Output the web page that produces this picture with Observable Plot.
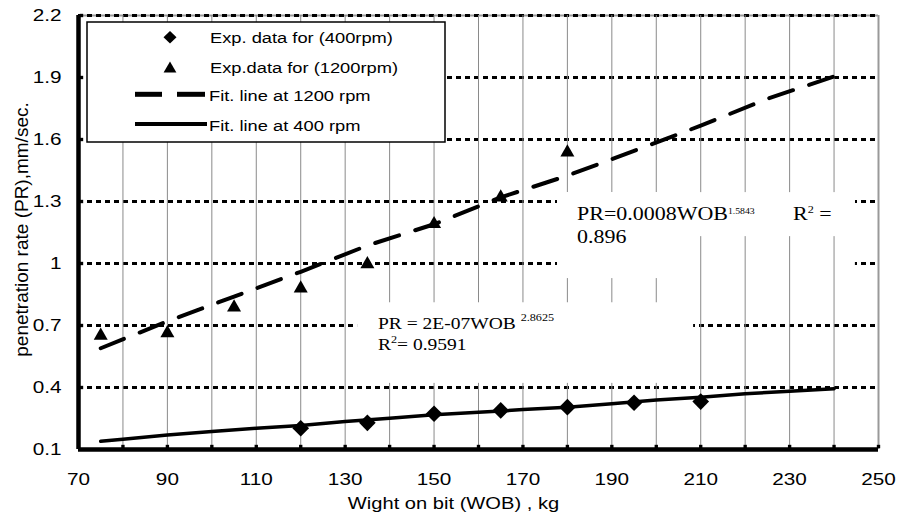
<!DOCTYPE html>
<html><head><meta charset="utf-8">
<script src="https://cdn.jsdelivr.net/npm/d3@7"></script>
<script src="https://cdn.jsdelivr.net/npm/@observablehq/plot@0.6"></script>
<style>
body{margin:0;background:#fff;}
#chart svg{display:block;}
</style>
</head><body><div id="chart"></div>
<script>
// ---- data ----
const wobExp400 = [120, 135, 150, 165, 180, 195, 210];
const prExp400  = [0.203, 0.229, 0.273, 0.289, 0.305, 0.326, 0.332];

const wobExp1200 = [75, 90, 105, 120, 135, 150, 165, 180];
const prExp1200  = [0.66, 0.672, 0.797, 0.889, 1.006, 1.20, 1.329, 1.547];

const wobFit400 = [75, 80, 90, 100, 110, 120, 130, 140, 150, 160, 170, 180, 190, 200, 210, 220, 230, 240];
const prFit400  = [0.14, 0.15, 0.17, 0.187, 0.203, 0.216, 0.235, 0.251, 0.268, 0.28, 0.293, 0.305, 0.321, 0.34, 0.353, 0.37, 0.382, 0.394];

const wobFit1200 = [75, 90, 105, 120, 135, 150, 165, 180, 195, 210, 225, 240];
const prFit1200  = [0.59, 0.72, 0.84, 0.96, 1.087, 1.19, 1.32, 1.425, 1.545, 1.667, 1.797, 1.905];

const xTicks = [70, 90, 110, 130, 150, 170, 190, 210, 230, 250];
const xTickLabels = ["70", "90", "110", "130", "150", "170", "190", "210", "230", "250"];
const xGrid = [80, 90, 100, 110, 120, 130, 140, 150, 160, 170, 180, 190, 200, 210, 220, 230, 240];
const xMinor = [80, 90, 100, 110, 120, 130, 140, 150, 160, 170, 180, 190, 200, 210, 220, 230, 240, 250];
const yTicks = [0.1, 0.4, 0.7, 1.0, 1.3, 1.6, 1.9, 2.2];
const yTickLabels = ["0.1", "0.4", "0.7", "1", "1.3", "1.6", "1.9", "2.2"];

const legendLabels = ["Exp. data for (400rpm)", "Exp.data for (1200rpm)", "Fit. line at 1200 rpm", "Fit. line at 400 rpm"];
const xTitle = "Wight on bit (WOB) , kg";
const yTitle = "penetration rate (PR),mm/sec.";

// ---- tables built from the arrays ----
const exp400 = wobExp400.map((x, i) => ({x, y: prExp400[i]}));
const exp1200 = wobExp1200.map((x, i) => ({x, y: prExp1200[i]}));
const fit400 = wobFit400.map((x, i) => ({x, y: prFit400[i]}));
const fit1200 = wobFit1200.map((x, i) => ({x, y: prFit1200[i]}));

const SANS = "'Liberation Sans', Arial, sans-serif";
const SERIF = "'Liberation Serif', 'Times New Roman', serif";
const SX = 1.22; // horizontal stretch of the reference lettering

const chart = Plot.plot({
  width: 898, height: 512,
  marginLeft: 78, marginRight: 20, marginTop: 15, marginBottom: 63,
  x: {domain: [70, 250]},
  y: {domain: [0.1, 2.2]},
  style: {fontFamily: SANS, fontSize: "17px", color: "#000", background: "#fff", overflow: "visible"},
  marks: [
    Plot.ruleY([2.2], {stroke: "#999", strokeWidth: 2}),
    Plot.ruleY(yTicks.slice(1), {stroke: "#000", strokeWidth: 3, strokeDasharray: "5,4"}),
    // white background of the upper equation label (hides dotted lines)
    Plot.rect([0], {x1: 177.8, x2: 244.8, y1: 0.927, y2: 1.343, fill: "#fff"}),
    Plot.ruleX(xGrid, {stroke: "#8a8a8a", strokeWidth: 1}),
    Plot.ruleX([250], {stroke: "#999", strokeWidth: 2}),
    // label backgrounds hiding vertical grid
    Plot.rect([0], {x1: 177.8, x2: 244.8, y1: 1.13, y2: 1.343, fill: "#fff"}),
    Plot.rect([0], {x1: 177.8, x2: 206.8, y1: 0.927, y2: 1.343, fill: "#fff"}),
    Plot.rect([0], {x1: 132.8, x2: 208.4, y1: 0.42, y2: 0.81, fill: "#fff"}),
    // axes lines
    Plot.ruleX([70], {stroke: "#000", strokeWidth: 4.5}),
    Plot.ruleY([0.1], {stroke: "#000", strokeWidth: 4.5}),
    Plot.dot(xMinor, {x: d => d, y: () => 0.1, symbol: "square", r: 1.9, fill: "#000", dy: -3}),
    Plot.dot(yTicks.slice(1), {x: () => 70, y: d => d, symbol: "square", r: 1.9, fill: "#000", dx: 3}),
    // data
    Plot.line(fit400, {x: "x", y: "y", stroke: "#000", strokeWidth: 3.5}),
    Plot.line(fit1200, {x: "x", y: "y", stroke: "#000", strokeWidth: 4, strokeDasharray: "25,17"}),
    Plot.dot(exp400, {x: "x", y: "y", symbol: "diamond2", fill: "#000", r: 7.5}),
    Plot.dot(exp1200, {x: "x", y: "y", symbol: "triangle", fill: "#000", r: 5.2, dy: 1.9}),
    // axes
    Plot.axisX({ticks: xTicks, tickFormat: d => xTickLabels[xTicks.indexOf(d)], tickSize: 0, tickPadding: 23, label: null, fontSize: 17}),
    Plot.axisY({ticks: yTicks, tickFormat: d => yTickLabels[yTicks.indexOf(d)], tickSize: 0, tickPadding: 17, label: null, fontSize: 17}),
    Plot.text([xTitle], {frameAnchor: "bottom", textAnchor: "middle", dx: -25, dy: 59, lineAnchor: "bottom", fontSize: 16.5}),
    Plot.text([yTitle], {frameAnchor: "left", textAnchor: "middle", rotate: -90, dx: -56.5, dy: -3, fontSize: 19})
  ]
});

document.getElementById("chart").appendChild(chart);

// stretch horizontal lettering like the reference (scale about each text's anchor)
function stretch(t, s) {
  const r = t.getBoundingClientRect();
  const anchor = getComputedStyle(t).textAnchor;
  const px = anchor === "middle" ? (r.left + r.right) / 2 : anchor === "end" ? r.right : r.left;
  const py = (r.top + r.bottom) / 2;
  const parent = t.parentNode;
  const m = parent.getScreenCTM().inverse();
  const pt = chart.createSVGPoint(); pt.x = px; pt.y = py;
  const p = pt.matrixTransform(m);
  const g = document.createElementNS("http://www.w3.org/2000/svg", "g");
  g.setAttribute("transform", `translate(${p.x},${p.y}) scale(${s},1) translate(${-p.x},${-p.y})`);
  parent.insertBefore(g, t);
  g.appendChild(t);
}
Array.from(chart.querySelectorAll("text")).forEach(t => {
  if ((t.getAttribute("transform") || "").includes("rotate")) return;
  stretch(t, SX);
});

const svg = d3.select(chart);
const sx = chart.scale("x"), sy = chart.scale("y");

// ---- legend ----
const lg = svg.append("g").attr("text-anchor", "start");
lg.append("rect").attr("x", 87).attr("y", 22).attr("width", 358).attr("height", 120)
  .attr("fill", "#fff").attr("stroke", "#000").attr("stroke-width", 1.5);
lg.append("path").attr("d", "M170,31 L176.5,37.3 L170,43.6 L163.5,37.3 Z").attr("fill", "#000");
lg.append("path").attr("d", "M170,61.5 L176.4,72.5 L163.6,72.5 Z").attr("fill", "#000");
lg.append("line").attr("x1", 135).attr("x2", 162).attr("y1", 94.3).attr("y2", 94.3).attr("stroke", "#000").attr("stroke-width", 5);
lg.append("line").attr("x1", 177).attr("x2", 205).attr("y1", 94.3).attr("y2", 94.3).attr("stroke", "#000").attr("stroke-width", 5);
lg.append("line").attr("x1", 135).attr("x2", 207).attr("y1", 124).attr("y2", 124).attr("stroke", "#000").attr("stroke-width", 4);
const legendPos = [[210, 43.3], [210, 73], [209, 100.7], [209, 130.5]];
legendLabels.forEach((s, i) => {
  lg.append("text").attr("transform", `translate(${legendPos[i][0]},${legendPos[i][1]}) scale(${SX},1)`)
    .attr("text-anchor", "start").attr("font-family", SANS).attr("font-size", 15).text(s);
});

// ---- trendline equations ----
function eq(x, y, size) {
  return svg.append("text").attr("transform", `translate(${x},${y}) scale(${SX},1)`)
    .attr("text-anchor", "start").attr("font-family", SERIF).attr("font-size", size).attr("fill", "#000");
}
const ux = sx.apply(182.3), uy = sy.apply(1.208);
let t = eq(ux, uy, 18);
t.append("tspan").text("PR=0.0008WOB");
t.append("tspan").attr("font-size", 8).attr("dy", -6.5).text("1.5843");
t = eq(ux + 216, uy, 18);
t.append("tspan").text("R");
t.append("tspan").attr("font-size", 10).attr("dy", -7).text("2");
t.append("tspan").attr("dy", 7).text(" =");
eq(ux, uy + 23, 18).text("0.896");

const lx = sx.apply(137.5), ly = sy.apply(0.681);
t = eq(lx, ly, 16);
t.append("tspan").text("PR = 2E-07WOB ");
t.append("tspan").attr("font-size", 10).attr("dy", -7.5).text("2.8625");
t = eq(lx, ly + 21.5, 16);
t.append("tspan").text("R");
t.append("tspan").attr("font-size", 10).attr("dy", -7).text("2");
t.append("tspan").attr("dy", 7).text("= 0.9591");
</script>
</body></html>
